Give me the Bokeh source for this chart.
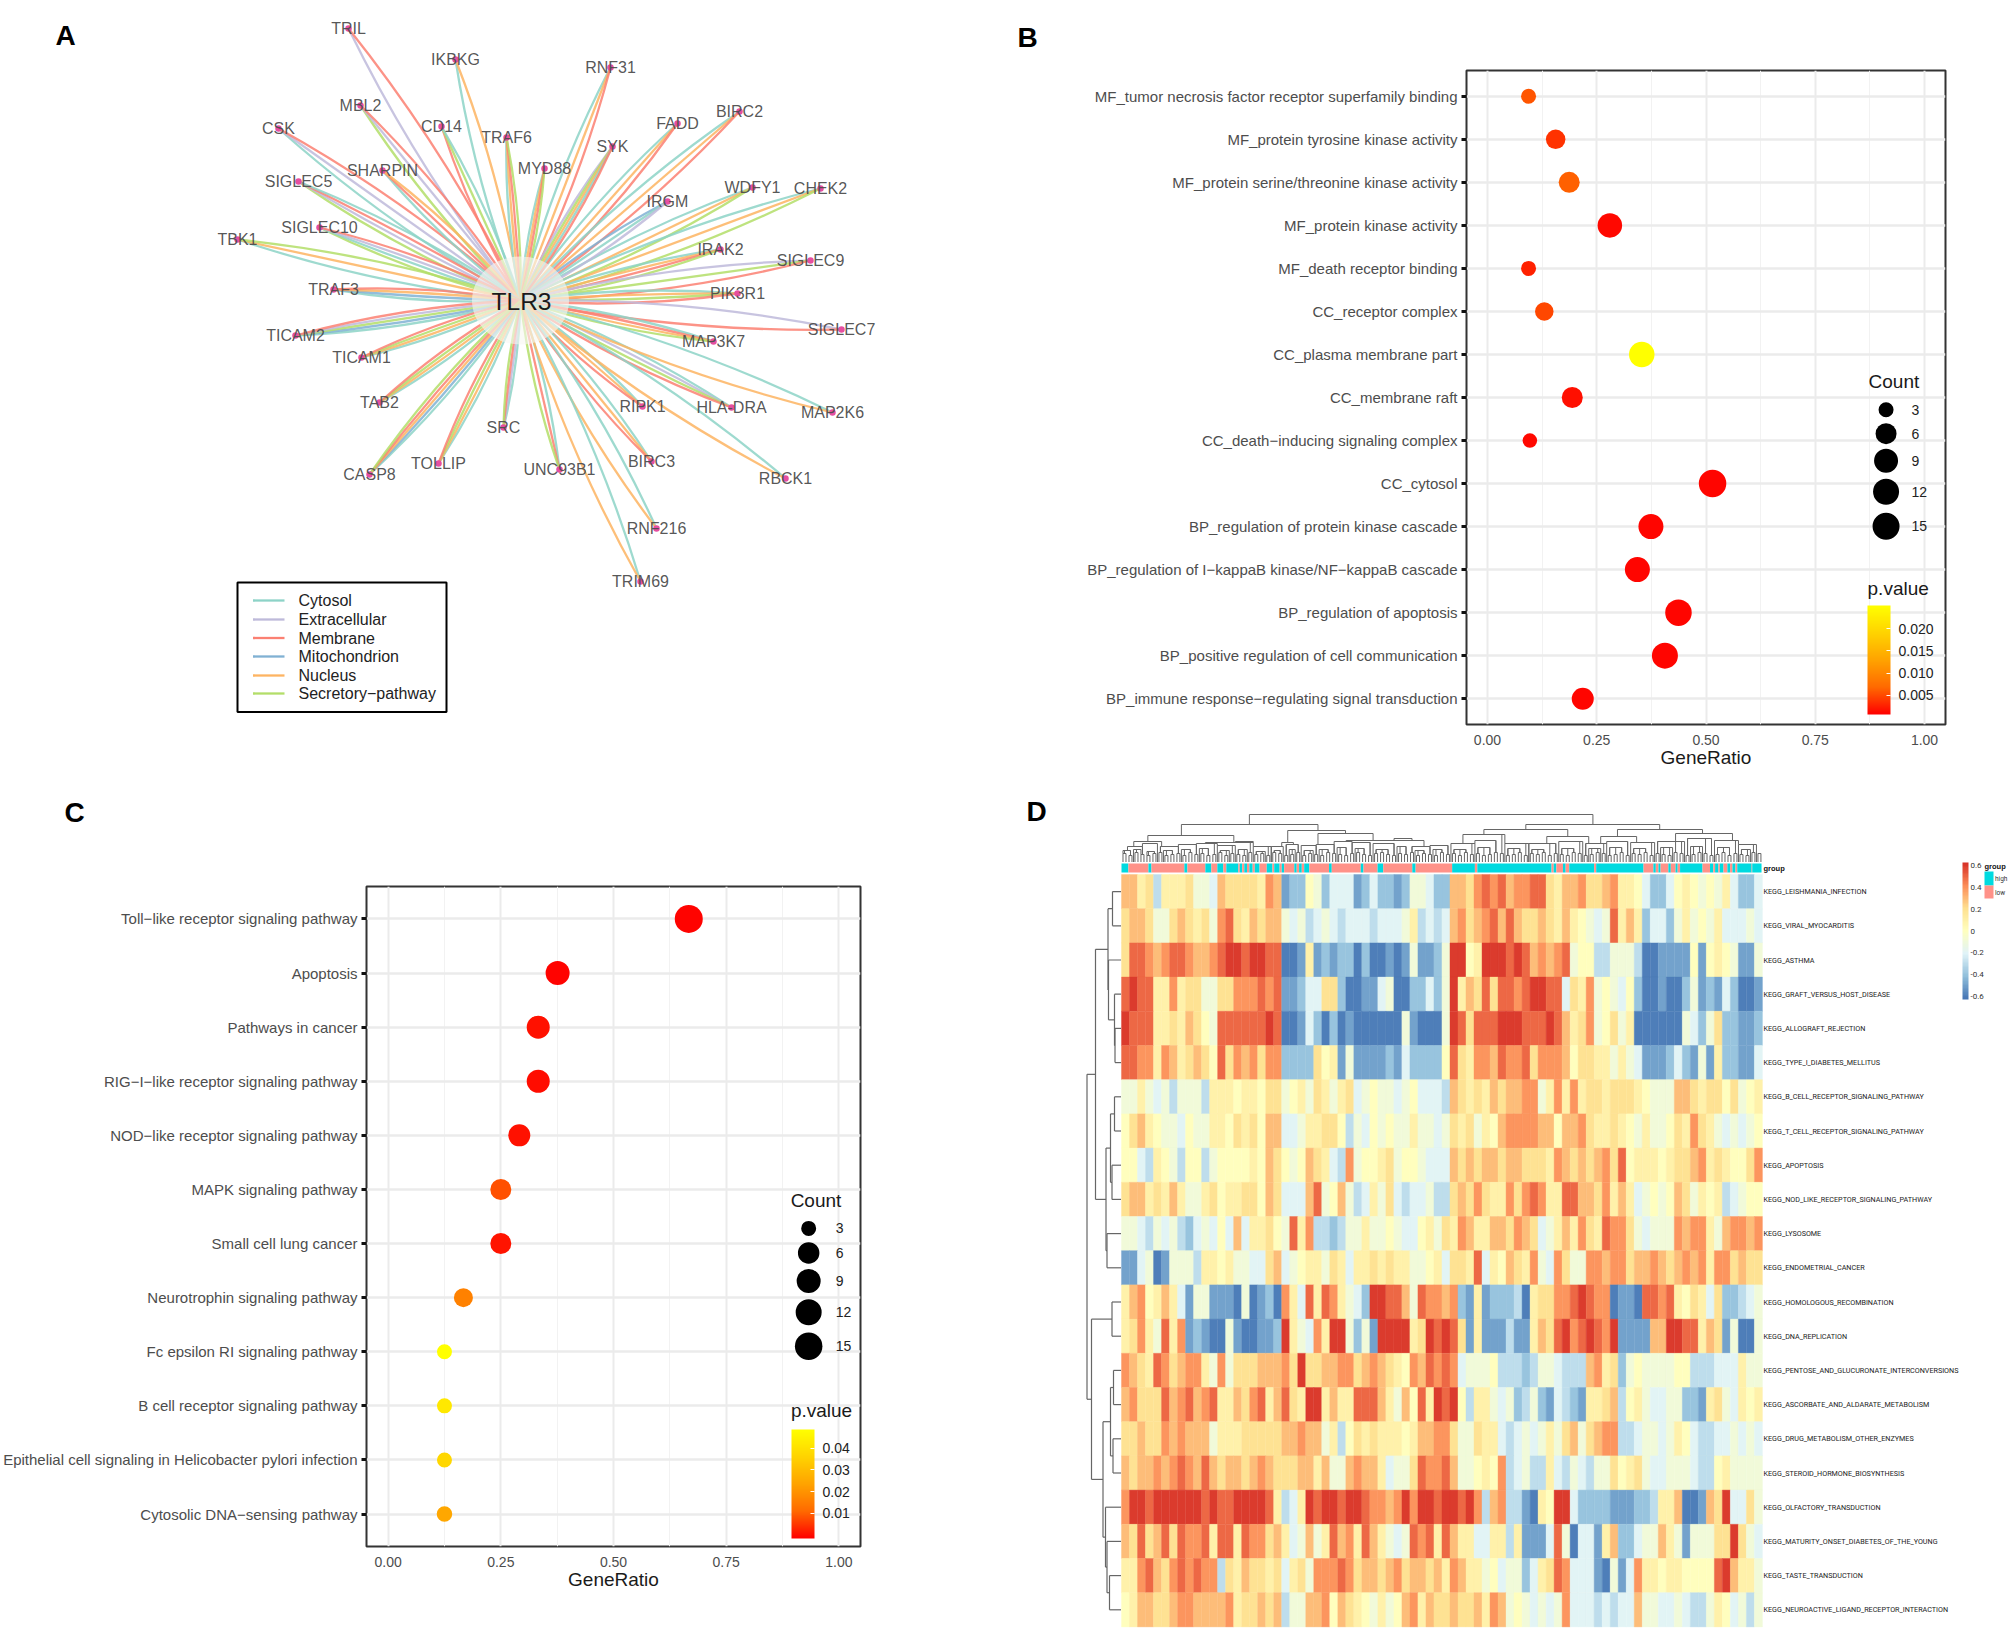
from bokeh.plotting import figure
from bokeh.layouts import row, column
from bokeh.models import Range1d, FixedTicker, ColorBar, LinearColorMapper, NumeralTickFormatter, ColumnDataSource, Title
from bokeh.core.properties import value
from bokeh.embed import file_html
from bokeh.resources import INLINE

FONT = "Liberation Sans"

# ---------- Panel A data
gene_names = ["TRIL","IKBKG","RNF31","MBL2","CD14","TRAF6","FADD","BIRC2","SYK","MYD88","CSK","SHARPIN","SIGLEC5",
              "WDFY1","CHEK2","IRGM","SIGLEC10","TBK1","IRAK2","SIGLEC9","TRAF3","PIK3R1","SIGLEC7","TICAM2","MAP3K7",
              "TICAM1","TAB2","RIPK1","HLA-DRA","MAP2K6","SRC","TOLLIP","CASP8","UNC93B1","BIRC3","RBCK1","RNF216","TRIM69"]
gene_x = [348,455,610,360,441,506,677,739,612,544,278,382,298,752,820,667,319,237,720,810,333,737,841,295,713,
          361,379,642,731,832,503,438,369,559,651,785,656,640]
gene_y = [28,59,67,105,126,137,123,111,146,168,128,170,181,187,188,201,227,239,249,260,289,293,329,335,341,
          357,402,406,407,412,427,463,474,469,461,478,528,581]
gene_locs = ["EM","CN","CNM","SEM","MSC","CNMS","CNM","CNM","ESNCM","CNMS","CEM","CMN","SEMC",
             "CNS","CNS","TCE","SCEM","CNS","CNMS","ESM","CTNM","CNSM","EM","CTSEM","CMNS",
             "CNSM","CNSM","CNM","CESM","CN","CEMS","CNSM","CTNMS","CMS","CNM","CN","CN","CN"]
hub_name = "TLR3"
hub_x, hub_y = 520, 300
loc_names = ["Cytosol","Extracellular","Membrane","Mitochondrion","Nucleus","Secretory\u2212pathway"]
loc_codes = "CEMTNS"
loc_colors = ["#8dd3c7","#bebada","#fb8072","#80b1d3","#fdb462","#b3de69"]
legend_y = [600,619,637.5,656,675,693]

# ---------- Panel B data
b_terms = ["MF_tumor necrosis factor receptor superfamily binding","MF_protein tyrosine kinase activity",
           "MF_protein serine/threonine kinase activity","MF_protein kinase activity","MF_death receptor binding",
           "CC_receptor complex","CC_plasma membrane part","CC_membrane raft","CC_death\u2212inducing signaling complex",
           "CC_cytosol","BP_regulation of protein kinase cascade","BP_regulation of I\u2212kappaB kinase/NF\u2212kappaB cascade",
           "BP_regulation of apoptosis","BP_positive regulation of cell communication","BP_immune response\u2212regulating signal transduction"]
b_ratio = [0.094,0.156,0.187,0.28,0.094,0.13,0.353,0.194,0.097,0.515,0.374,0.343,0.437,0.406,0.218]
b_size = [15,19.5,21,24.5,15,18.5,25.5,21,14.5,27.5,25,25,26.5,26,22]
b_p = [0.0056,0.0036,0.0063,0.0012,0.0027,0.0049,0.0252,0.0016,0.0012,0.0010,0.0010,0.0010,0.0010,0.0010,0.0010]

# ---------- Panel C data
c_terms = ["Toll\u2212like receptor signaling pathway","Apoptosis","Pathways in cancer","RIG\u2212I\u2212like receptor signaling pathway",
           "NOD\u2212like receptor signaling pathway","MAPK signaling pathway","Small cell lung cancer","Neurotrophin signaling pathway",
           "Fc epsilon RI signaling pathway","B cell receptor signaling pathway",
           "Epithelial cell signaling in Helicobacter pylori infection","Cytosolic DNA\u2212sensing pathway"]
c_ratio = [0.667,0.376,0.333,0.333,0.291,0.25,0.25,0.167,0.125,0.125,0.125,0.125]
c_size = [28,24,23,23,22,21,21,19,15,15,15,15.5]
c_p = [-0.001,-0.001,0.0005,0.0,0.0005,0.008,0.001,0.016,0.0485,0.042,0.037,0.0245]

count_vals = ["3","6","9","12","15"]
b_count_size = [15,21,24,26,27]
c_count_size = [15,21.5,24,26,27.5]

# ---------- Panel D data (value x 10, read by eye)
heat_rows = ["KEGG_LEISHMANIA_INFECTION","KEGG_VIRAL_MYOCARDITIS","KEGG_ASTHMA","KEGG_GRAFT_VERSUS_HOST_DISEASE",
             "KEGG_ALLOGRAFT_REJECTION","KEGG_TYPE_I_DIABETES_MELLITUS","KEGG_B_CELL_RECEPTOR_SIGNALING_PATHWAY",
             "KEGG_T_CELL_RECEPTOR_SIGNALING_PATHWAY","KEGG_APOPTOSIS","KEGG_NOD_LIKE_RECEPTOR_SIGNALING_PATHWAY",
             "KEGG_LYSOSOME","KEGG_ENDOMETRIAL_CANCER","KEGG_HOMOLOGOUS_RECOMBINATION","KEGG_DNA_REPLICATION",
             "KEGG_PENTOSE_AND_GLUCURONATE_INTERCONVERSIONS","KEGG_ASCORBATE_AND_ALDARATE_METABOLISM",
             "KEGG_DRUG_METABOLISM_OTHER_ENZYMES","KEGG_STEROID_HORMONE_BIOSYNTHESIS","KEGG_OLFACTORY_TRANSDUCTION",
             "KEGG_MATURITY_ONSET_DIABETES_OF_THE_YOUNG","KEGG_TASTE_TRANSDUCTION","KEGG_NEUROACTIVE_LIGAND_RECEPTOR_INTERACTION"]
heat_values = [
 [3,3,1,2,-3,1,1,1,2,-1,-1,-2,3,2,2,2,2,1,4,3,-5,-4,-4,0,-1,-4,-2,-2,-2,-5,-4,-2,-4,-4,-5,-4,-1,-1,-2,-4,
  -4,3,3,2,4,5,4,5,3,4,4,5,5,2,1,3,3,4,2,2,3,4,1,1,0,-2,-4,-4,-2,0,1,0,-1,0,-1,1,-2,-4,-4,-2],
 [2,3,3,2,-1,-1,2,3,2,1,2,-1,4,5,2,1,3,2,3,3,-1,-2,-1,-3,-2,-1,-2,-3,-2,-2,-2,-3,-2,-2,-2,-1,1,-3,-2,-3,
  -2,3,4,2,3,4,5,3,5,3,2,2,3,2,1,3,1,0,-1,-2,-1,5,1,3,1,-4,-2,-2,-4,-1,1,-1,0,-1,1,-2,-2,-2,-1,-2],
 [2,5,5,4,3,4,5,5,4,3,3,4,5,6,6,5,6,6,5,5,-6,-6,-5,1,-5,-4,-5,-4,-4,-6,-4,-6,-6,-5,-6,-5,-1,-5,-5,-4,
  -1,6,6,0,1,6,6,6,5,6,5,3,4,3,4,5,-1,0,0,-3,-3,-1,-1,-1,-3,-6,-6,-5,-5,-5,-5,0,-5,0,1,0,-1,-5,-5,-1],
 [5,6,5,5,1,1,4,1,2,2,-1,-1,2,2,4,4,4,5,4,5,-5,-5,-4,-2,-2,2,2,-4,-6,-6,-5,-5,-2,-1,-6,-6,-4,-4,-2,-4,
  -1,6,1,3,2,5,2,5,5,4,5,6,6,5,5,-2,2,1,4,-1,0,-1,-2,0,-4,-6,-6,-5,-6,-6,-4,-1,-5,-4,-5,-2,-4,-6,-6,-5],
 [6,5,5,5,1,1,2,1,3,2,0,-1,5,5,5,5,5,5,6,5,-6,-6,-5,-2,-4,-6,-4,-6,-5,-6,-6,-6,-6,-6,-6,-1,-5,-6,-6,-6,
  -1,6,5,2,5,5,5,6,6,6,5,5,5,6,5,3,1,2,4,-1,0,2,-1,1,-6,-6,-6,-6,-6,-6,-1,-2,-4,-1,2,-4,-4,-5,-5,-4],
 [5,5,4,4,1,4,3,1,2,3,2,0,5,2,4,3,4,2,4,4,-4,-4,-4,-4,2,0,1,-5,-1,-5,-5,-5,-5,-4,-5,-2,-4,-4,-4,-4,
  0,5,2,1,4,4,3,5,4,4,5,2,4,4,4,3,0,2,2,1,1,-1,1,-1,-2,-5,-5,-5,-4,-2,-4,-5,-1,-5,1,-4,-4,-5,-5,-2],
 [-1,-1,1,-1,-2,-1,-3,-1,-1,-1,-3,1,1,1,0,1,1,0,2,2,-1,0,1,-1,2,1,-1,1,2,-2,-1,0,-1,-1,-2,-1,0,-2,-2,-2,
  -3,3,2,1,2,1,3,2,3,3,4,4,-1,1,4,1,4,1,2,2,1,2,2,2,1,0,-1,-1,-1,3,3,2,1,2,2,0,2,-1,0,1],
 [0,2,3,1,0,-1,-1,-2,0,-1,-1,1,1,0,2,1,2,0,3,3,-2,-2,-1,1,1,2,2,0,-3,-1,-2,0,-1,0,-1,-1,1,-1,-1,-2,
  -1,2,1,2,-1,1,0,3,4,4,4,4,3,3,0,3,3,4,2,1,1,2,1,0,-1,1,-1,-1,0,2,1,4,2,1,-1,-2,-1,-2,-1,0],
 [0,0,-2,-3,1,0,-1,-3,0,0,-3,-1,0,0,0,0,1,0,3,2,0,-1,0,3,2,1,-2,-3,4,-1,0,0,1,2,-1,0,0,-1,-2,-2,
  -2,3,2,3,2,3,3,2,3,3,2,2,2,1,4,3,2,3,2,3,4,2,5,0,1,1,1,0,1,2,2,3,4,1,2,1,0,0,2,4],
 [2,3,3,1,2,1,3,1,-1,-1,1,2,0,1,1,2,2,0,3,2,-2,-2,-2,3,5,-1,0,3,-1,-3,-2,1,-1,2,-2,-3,-2,-2,-1,-3,
  -3,2,3,2,4,2,1,1,4,2,4,5,4,1,1,5,5,3,3,2,4,1,3,1,-2,-1,0,-1,0,3,2,-1,1,0,1,-3,-2,-1,0,0],
 [-1,-1,-2,-3,-1,-2,-1,-3,-4,-2,-1,-2,0,-2,3,-2,1,1,2,0,-1,5,1,4,-3,-3,-4,-3,-1,-1,1,-1,-1,0,-1,-2,-2,0,1,-1,
  2,1,4,3,1,1,3,3,2,4,3,2,-2,-1,1,3,1,4,2,1,5,4,4,2,-1,-2,-1,-1,-1,4,3,4,4,1,-1,3,4,4,3,4],
 [-5,-5,-2,-1,-6,-5,-1,-1,-1,-3,1,1,0,1,-1,-1,-2,-2,2,3,-2,-1,0,1,1,-1,2,1,-2,1,1,2,1,2,1,1,-1,-1,0,1,
  -2,2,2,1,5,-2,1,0,3,2,1,4,-1,-2,4,2,-1,-1,4,4,3,4,4,2,3,3,4,3,2,3,4,3,4,1,4,4,2,3,2,2],
 [1,3,4,0,1,3,1,-2,-5,-1,-1,-5,-5,-5,-6,-1,-6,-5,-4,-6,4,1,-2,5,1,5,4,1,-1,-2,-4,6,6,5,5,3,-1,5,4,4,
  3,4,-4,-5,1,-5,-4,-4,-4,-3,-6,1,2,2,4,4,5,6,5,4,4,-6,-5,-5,-6,5,5,4,5,1,0,2,1,-2,2,-4,-4,-3,-2,-1],
 [1,2,4,1,-1,5,1,4,-5,-4,-5,-6,-6,-1,-5,-6,-6,-5,-5,-4,6,1,-1,-2,4,1,6,6,-1,-4,-1,-5,6,6,6,6,1,2,6,5,
  6,5,2,-5,1,-5,-5,-5,-3,-5,-5,1,3,2,5,6,4,5,6,5,4,6,-5,-5,-5,-5,3,3,6,6,5,5,1,3,2,-5,-1,-6,-6,-1],
 [4,3,2,1,5,4,2,3,4,4,1,-1,4,-1,2,2,2,3,3,3,4,2,6,2,2,3,3,4,4,2,3,4,3,2,1,0,4,3,5,4,
  5,4,-2,-1,-1,-1,0,-3,-3,-3,-4,-3,-1,-1,-2,-3,-3,-3,3,4,1,2,-4,-1,0,-1,-1,-1,-1,0,0,-3,-3,-3,-2,-2,-2,1,-1,-1],
 [3,4,2,2,2,5,3,4,5,3,4,5,1,1,3,2,4,5,1,3,5,2,1,6,6,1,3,1,1,5,5,5,3,1,-1,3,0,5,1,6,
  5,6,0,-3,1,1,-1,-2,-1,-4,-3,-1,-4,-5,-2,-3,-4,-5,1,1,2,3,-3,0,1,-1,-2,-2,-1,-1,-4,-4,-5,1,2,-1,-2,1,0,1],
 [2,2,3,2,2,4,3,4,3,3,3,-1,1,1,1,2,2,2,2,2,3,3,4,3,3,-1,1,-3,0,2,1,2,1,1,1,0,1,3,3,4,
  4,2,-1,-1,2,1,1,-2,-3,-2,-1,-2,-1,1,-1,2,3,-1,2,3,4,4,-3,-3,-2,-1,-1,-2,-1,1,0,-2,-3,-3,-2,-2,-1,-2,-1,-2],
 [3,2,3,3,4,3,4,5,4,3,5,3,2,3,3,2,3,4,3,2,2,2,3,3,1,3,-1,-1,3,4,3,3,1,-2,-1,-1,2,5,4,4,
  5,3,-1,-1,0,1,0,4,-3,-2,-1,-3,-3,1,-2,-3,-1,-2,-3,-1,-1,2,0,1,2,-1,-2,-2,-1,-1,-1,-2,-3,-3,0,1,-1,-1,-1,-1],
 [4,6,6,5,6,6,6,6,6,6,5,6,5,5,6,6,6,6,5,1,-3,-2,1,6,5,6,6,5,6,6,5,4,4,3,4,6,4,6,6,5,
  6,6,5,6,4,-3,3,4,-3,-3,-5,-6,1,0,6,6,-2,-4,-4,-4,-4,-5,-5,-5,-4,-4,-3,1,1,3,-6,-6,-5,3,2,6,-2,-2,2,-1],
 [3,2,5,2,3,5,2,5,4,4,5,1,5,5,1,5,4,4,2,3,1,-2,-1,3,-1,1,5,3,4,1,5,3,1,-1,-2,-1,5,4,5,1,
  5,3,1,1,-2,-2,1,1,-3,1,-5,-5,-5,-2,5,-1,-6,-2,-2,-5,1,3,-4,-4,-2,-1,-1,3,1,-1,-5,-1,-1,-1,2,2,6,2,-1,-2],
 [1,1,4,5,3,2,4,5,4,5,4,4,-3,2,1,3,2,2,1,2,-2,1,2,-1,4,4,4,5,4,2,3,3,2,3,4,2,3,3,2,3,
  1,4,3,1,1,-1,0,-2,-1,-1,-4,-2,1,2,5,4,-2,-2,-2,-5,-6,-1,-5,-2,4,1,1,0,1,1,0,0,0,0,5,6,3,1,1,-1],
 [0,1,3,3,2,2,3,4,4,3,3,3,3,4,1,2,2,3,2,3,-3,-1,-1,3,3,4,0,3,2,1,0,-1,1,-1,0,3,4,1,3,2,
  2,3,2,2,3,1,4,3,-1,0,-1,-2,-1,-2,-1,4,-2,-2,-2,-3,-2,-3,-2,-2,3,-1,-1,-2,-2,-1,-2,-3,-3,-1,1,0,-2,-1,-3,-1],
]
group_edges = [0,2.3,9,10,21,22,28,30,32,34,35,39,39.5,40.3,41,41.9,42.7,43.8,44.5,46.1,48.5,50.4,51,52.8,53.5,54.3,
               57.7,58.5,59.3,60.2,61,62.7,69.3,70.2,79.9,80.8,85.5,87.4,97.1,98.2,110.4,118,118.8,143.6,144.3,145.2,
               147.4,148.3,149.5,157.8,158.5,174.3,177.6,178.4,179.3,180,182.6,183.4,185,185.7,186.5,194,196.5,197.6,
               198.2,199.3,199.8,201,202.3,203.2,204,205,205.6,210.4,210.6,213.7]
group_names = ["high","low"]
group_colors = ["#00DAE0","#FF9289"]
heat_stops = ["#4575B4","#91BFDB","#E0F3F8","#FFFFBF","#FEE090","#FC8D59","#D73027"]
cbar_ticks = [-0.6,-0.4,-0.2,0,0.2,0.4,0.6]
# dendrogram brackets: (left column, right column, height as page y)
top_brackets = [(42.7,157.4,814),(20,65.6,824),(135,179.7,824),(8.8,37.5,835),(55.5,74.8,830),(65.6,84,833),
 (121,149,829),(165.6,194,829),(4.1,13.4,841),(28,44,842),(53.5,57.4,842),(75,101,840),(114,128,834),(142,156,836),
 (160,172,836),(185,204,833),(110,118,843),(118,125,840),(128,136,843),(136,145,843),(146,154,841),(155,162,843),
 (162,169,841),(170,178,842),(179,188,841),(189,197,838),(198,206,840),(206,212,844),(2,7,846),(7,12,843),(13,19,846),
 (19,25,844),(25,32,843),(32,38,845),(38,44,841),(44,50,846),(50,54,846),(55,59,844),(60,65,845),(65,71,844),(71,77,841),
 (77,83,842),(84,91,843),(91,97,838),(97,103,846),(103,109,845),(0.5,3,850),(4,6.5,849),(8.5,11,851),(14,17,850),
 (20,23,849),(26,29,848),(33,36,850),(39,42,849),(45,48,851),(51,53,850),(56,58,849),(61,64,850),(66,69,849),(72,75,847),
 (78,81,848),(85,89,849),(92,95,846),(98,101,850),(104,107,849),(111,115,849),(119,123,847),(129,133,848),(137,141,849),
 (147,151,848),(156,160,848),(163,167,847),(171,175,848),(180,184,847),(190,194,846),(199,203,847),(207,210,849)]
leaf_heights = [853,855,852,854,855,853,852,855,854,853,855,852,854,853,855,854,852,855,853,854,855,852,854,853,
 855,852,853,855,854,852,855,853,854,855,852,853,854,855,853,852,854,855,853,852,854,855,853,854,852,855,853,854,
 855,852,854,853,855,852,854,853,855,854,852,853,855,854,852,855,853,854,852,855,853,854,855,852,853,855,854,852,
 853,855,854,852,855,853,854,852,855,853,854,855,852,853,855,854,852,853,855,854,852,855,853,854,855,852,853]
# row dendrogram merges: (child, child, page x of the join); ints are rows, "mN" are earlier merges
side_tree = [(0,1,1112),(4,5,1114.5),(3,"m1",1114),(2,"m2",1108),("m0","m3",1107.5),(6,7,1114),(8,9,1111.5),("m5","m6",1110),
             (10,11,1106.5),("m7","m8",1105.5),("m4","m9",1095),(12,13,1111.5),(14,15,1113),(16,17,1112.5),("m12","m13",1110),
             (20,21,1109),(19,"m15",1106.5),(18,"m16",1105),("m14","m17",1102.5),("m11","m18",1091),("m10","m19",1086.5)]

# ---------- helpers
def lerp_palette(stops, n):
    rgb = [tuple(int(s[i:i+2], 16) for i in (1, 3, 5)) for s in stops]
    out = []
    for k in range(n):
        t = k / (n - 1) * (len(rgb) - 1)
        i = min(int(t), len(rgb) - 2)
        f = t - i
        c = [round(rgb[i][j] + (rgb[i+1][j] - rgb[i][j]) * f) for j in range(3)]
        out.append("#%02x%02x%02x" % tuple(c))
    return out

p_palette = lerp_palette(["#ff0000","#ff6a00","#ffa300","#ffd300","#ffff00"], 256)
f_text = dict(text_font=value(FONT))


def dot_panel(terms, ratio, size, pv, cmap, ticks, fmt, width, height, left, right, top, bottom,
              count_sizes, count_x, count_y, count_label_x, count_title, pv_title, letter, bar_loc, bar_h):
    n = len(terms)
    p = figure(width=width, height=height, x_range=Range1d(-0.048, 1.048), y_range=Range1d(0.4, n + 0.6),
               toolbar_location=None, output_backend="svg", min_border_left=left, min_border_right=right,
               min_border_top=top, min_border_bottom=bottom, frame_align=False)
    if letter:
        p.title = Title(text=letter[0], align="left", offset=letter[1], standoff=letter[2], text_font=FONT,
                        text_font_size="28px", text_font_style="bold", text_color="#000000")
    p.outline_line_color = "#333333"
    p.outline_line_width = 2
    xa, ya = p.xaxis[0], p.yaxis[0]
    xa.ticker = FixedTicker(ticks=[0, .25, .5, .75, 1], minor_ticks=[.125, .375, .625, .875])
    xa.formatter = NumeralTickFormatter(format="0.00")
    ya.ticker = FixedTicker(ticks=list(range(1, n + 1)))
    ya.major_label_overrides = {n - i: t for i, t in enumerate(terms)}
    for a in (xa, ya):
        a.axis_line_color = None
        a.minor_tick_line_color = None
        a.major_label_text_font = FONT
        a.major_label_text_color = "#4d4d4d"
    xa.major_label_text_font_size = "14px"
    ya.major_label_text_font_size = "15px"
    xa.major_tick_line_color = None
    xa.major_label_standoff = 4
    ya.major_tick_line_color = "#111111"
    ya.major_tick_line_width = 3
    ya.major_tick_in = 0
    ya.major_tick_out = 5
    ya.major_label_standoff = 4
    xa.axis_label = "GeneRatio"
    xa.axis_label_text_font = FONT
    xa.axis_label_text_font_size = "19px"
    xa.axis_label_text_font_style = "normal"
    xa.axis_label_text_color = "#1a1a1a"
    xa.axis_label_standoff = -1
    p.xgrid.grid_line_color = "#ebebeb"
    p.xgrid.grid_line_width = 2
    p.xgrid.minor_grid_line_color = "#f2f2f2"
    p.xgrid.minor_grid_line_width = 1
    p.ygrid.grid_line_color = "#ebebeb"
    p.ygrid.grid_line_width = 2.5

    src = ColumnDataSource(dict(x=ratio, y=[n - i for i in range(n)], s=size, p=pv))
    p.scatter("x", "y", size="s", source=src, fill_color={"field": "p", "transform": cmap}, line_color=None)

    p.scatter([count_x] * 5, count_y, size=count_sizes, color="black", line_color=None)
    p.text([count_label_x] * 5, count_y, text=count_vals, text_baseline="middle", text_font_size="14px",
           text_color="#222222", **f_text)
    p.text([count_title[0]], [count_title[1]], text=["Count"], text_baseline="middle", text_font_size="19px",
           text_color="#1a1a1a", **f_text)
    p.text([pv_title[0]], [pv_title[1]], text=["p.value"], text_baseline="middle", text_font_size="19px",
           text_color="#1a1a1a", **f_text)

    cb = ColorBar(color_mapper=cmap, location=bar_loc, width=23, height=bar_h, padding=0,
                  ticker=FixedTicker(ticks=ticks), formatter=NumeralTickFormatter(format=fmt),
                  major_label_text_font=FONT,
                  major_label_text_font_size="14px", major_label_text_color="#222222", label_standoff=8,
                  major_tick_line_color="white", major_tick_in=4, major_tick_out=0, minor_tick_line_color=None,
                  background_fill_alpha=0, border_line_color=None, bar_line_color=None)
    p.add_layout(cb, "center")
    return p


# ---------- Panel A (its canvas also carries the letter C)
pa = figure(width=1000, height=830, x_range=Range1d(0, 1000), y_range=Range1d(830, 0), x_axis_type=None, y_axis_type=None,
            toolbar_location=None, output_backend="svg", min_border=0, outline_line_color=None, frame_align=False)
pa.grid.visible = False
ex0, ey0, ex1, ey1, ecx, ecy, ecol = [], [], [], [], [], [], []
for gx, gy, locs in zip(gene_x, gene_y, gene_locs):
    dx, dy = gx - hub_x, gy - hub_y
    length = (dx * dx + dy * dy) ** 0.5
    total = 0.055 * length
    m = len(locs)
    for i, code in enumerate(locs):
        off = (i / (m - 1) - 0.5) * total * 2 if m > 1 else 0
        ex0.append(hub_x); ey0.append(hub_y); ex1.append(gx); ey1.append(gy)
        ecx.append((hub_x + gx) / 2 - dy / length * off)
        ecy.append((hub_y + gy) / 2 + dx / length * off)
        ecol.append(loc_colors[loc_codes.index(code)])
pa.quadratic(x0=ex0, y0=ey0, x1=ex1, y1=ey1, cx=ecx, cy=ecy, line_color=ecol, line_width=2.3, line_alpha=0.85)
pa.ellipse([hub_x], [hub_y], width=97, height=88, fill_color="#f7f7f2", fill_alpha=0.62, line_color=None)
pa.scatter(gene_x, gene_y, size=6.5, color="#e64fa0", line_color=None)
pa.text(gene_x, gene_y, text=gene_names, text_align="center", text_baseline="middle", text_font_size="16px",
        text_color="#4d4d4d", text_alpha=0.95, **f_text)
pa.text([hub_x + 1], [hub_y + 1], text=[hub_name], text_align="center", text_baseline="middle", text_font_size="24.5px",
        text_color="#1a1a1a", **f_text)
pa.quad(left=[237], right=[446], top=[582], bottom=[711.5], fill_color="white", line_color="black", line_width=2)
for nm, col, ly in zip(loc_names, loc_colors, legend_y):
    pa.line([252.5, 284], [ly, ly], line_color=col, line_width=2.3)
    pa.text([298], [ly], text=[nm], text_baseline="middle", text_font_size="16px", text_color="#222222", **f_text)
pa.text([65, 74], [35, 812], text=["A", "C"], text_align="center", text_baseline="middle", text_font_size="28px",
        text_font_style="bold", text_color="black", **f_text)

# ---------- Panel B
b_map = LinearColorMapper(palette=p_palette, low=0.0007, high=0.0252)
b_y = lambda py: 15 - (py - 96) / 43.2
pb = dot_panel(b_terms, b_ratio, b_size, b_p, b_map, [0.005, 0.01, 0.015, 0.02], "0.000", 1008, 770, 466, 63, 70, 45,
               b_count_size, 0.912, [b_y(v) for v in (410.7, 434.7, 462, 493, 527.6)], 0.97, (0.872, b_y(382)),
               (0.8696, b_y(590)), ("B", -449, 36), (401, 10), 109)

# ---------- Panel C
c_map = LinearColorMapper(palette=p_palette, low=-0.0015, high=0.0485)
c_y = lambda py: 12 - (py - 918) / 54.2
pc = dot_panel(c_terms, c_ratio, c_size, c_p, c_map, [0.01, 0.02, 0.03, 0.04], "0.00", 1000, 799, 365, 140, 56, 83,
               c_count_size, 0.933, [c_y(v) for v in (1228, 1252.6, 1280.8, 1312, 1346)], 0.993, (0.893, c_y(1200)),
               (0.8936, c_y(1410)), None, (425, 8), 109)

# ---------- Panel D
cw, rh = 2.995, 34.2
to_cx = lambda px: (px - 1121) / cw
to_ry = lambda py: (py - 874) / rh
pd_ = figure(width=1008, height=859, x_range=Range1d(to_cx(1000), to_cx(2008)), y_range=Range1d(to_ry(1629), to_ry(770)),
             x_axis_type=None, y_axis_type=None, toolbar_location=None, output_backend="svg", min_border=0,
             outline_line_color=None, frame_align=False)
pd_.grid.visible = False
h_palette = lerp_palette(heat_stops, 100)
h_map = LinearColorMapper(palette=h_palette, low=-0.63, high=0.63)
for r, vals in enumerate(heat_values):
    w = 214 / len(vals)
    src = ColumnDataSource(dict(left=[i * w for i in range(len(vals))], right=[(i + 1) * w for i in range(len(vals))],
                                v=[v / 10 for v in vals]))
    pd_.quad(left="left", right="right", top=r, bottom=r + 1, source=src,
             fill_color={"field": "v", "transform": h_map},
             line_color={"field": "v", "transform": h_map}, line_width=0.4)
pd_.quad(left=group_edges[:-1], right=group_edges[1:], top=to_ry(863), bottom=to_ry(872),
         fill_color=[group_colors[i % 2] for i in range(len(group_edges) - 1)], line_color=None)
pd_.text([to_cx(1763)] * len(heat_rows), [r + 0.5 for r in range(len(heat_rows))], text=heat_rows, text_baseline="middle",
         text_font_size="7.2px", text_color="#222222", text_font=value("Roboto"))
pd_.text([to_cx(1763)], [to_ry(868)], text=["group"], text_baseline="middle", text_font_size="7.5px",
         text_font_style="bold", text_color="#111111", **f_text)

# top dendrogram
base = 861.5
sx0, sx1, sy0, sy1 = [], [], [], []
leaf_br = [(2 * i + 0.5, 2 * i + 1.5, h) for i, h in enumerate(leaf_heights)]
all_br = top_brackets + leaf_br
for l, r_, h in all_br:
    sx0.append(l); sx1.append(r_); sy0.append(to_ry(h)); sy1.append(to_ry(h))
    for x in (l, r_):
        lower = [b[2] for b in all_br if b[2] > h and b[0] <= x <= b[1]]
        end = min(lower) if lower else base
        sx0.append(x); sx1.append(x); sy0.append(to_ry(h)); sy1.append(to_ry(end))
for l, r_, h in leaf_br:
    mid = (l + r_) / 2
    upper = [b[2] for b in top_brackets if b[2] < h and b[0] <= mid <= b[1]]
    if upper:
        sx0.append(mid); sx1.append(mid); sy0.append(to_ry(h)); sy1.append(to_ry(max(upper)))
pd_.segment(sx0, sy0, sx1, sy1, line_color="#666666", line_width=1)

# side dendrogram
nodes = {}
tx0, tx1, ty0, ty1 = [], [], [], []
row_edge = 1120.5
def pos(ch):
    return nodes[ch] if isinstance(ch, str) else (row_edge, ch + 0.5)
for i, (a, b, jx) in enumerate(side_tree):
    ax, ay = pos(a); bx, by = pos(b)
    tx0 += [jx, jx, jx]; tx1 += [jx, ax, bx]; ty0 += [ay, ay, by]; ty1 += [by, ay, by]
    nodes["m%d" % i] = (jx, (ay + by) / 2)
pd_.segment([to_cx(v) for v in tx0], ty0, [to_cx(v) for v in tx1], ty1, line_color="#666666", line_width=1.2)

pd_.text([to_cx(1036)], [to_ry(811)], text=["D"], text_align="center", text_baseline="middle", text_font_size="28px",
         text_font_style="bold", text_color="black", **f_text)

cbd = ColorBar(color_mapper=h_map, location=(962, 630), width=6, height=137, padding=0,
               ticker=FixedTicker(ticks=cbar_ticks),
               major_label_overrides={-0.6: "-0.6", -0.4: "-0.4", -0.2: "-0.2", 0: "0", 0.2: "0.2", 0.4: "0.4", 0.6: "0.6"},
               major_label_text_font="Roboto", major_label_text_font_size="8px",
               major_label_text_color="#333333", label_standoff=2, major_tick_line_color=None, minor_tick_line_color=None,
               background_fill_alpha=0, border_line_color=None, bar_line_color=None)
pd_.add_layout(cbd, "center")
pd_.text([to_cx(1984)], [to_ry(866)], text=["group"], text_baseline="middle", text_font_size="7.5px", text_font_style="bold",
         text_color="#111111", **f_text)
pd_.quad(left=[to_cx(1984)] * 2, right=[to_cx(1993)] * 2, top=[to_ry(871), to_ry(885)], bottom=[to_ry(885), to_ry(898)],
         fill_color=group_colors, line_color=None)
pd_.text([to_cx(1994.5)] * 2, [to_ry(878), to_ry(892)], text=group_names, text_baseline="middle", text_font_size="6.5px",
         text_color="#333333", text_font=value("Roboto"))

layout = row(column(pa, pc, spacing=0), column(pb, pd_, spacing=0), spacing=0)
open("out.html", "w").write(file_html(layout, INLINE))
